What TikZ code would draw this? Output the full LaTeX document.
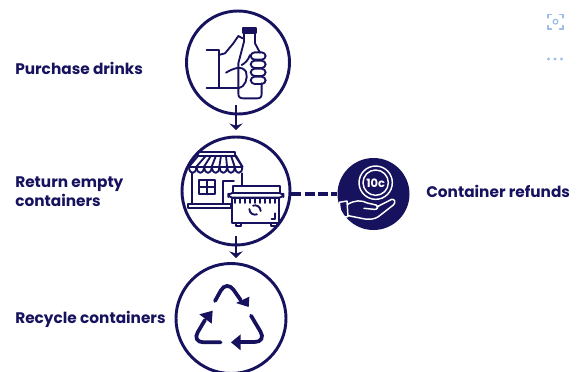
\documentclass[tikz,border=0pt]{standalone}
\usepackage{fontspec}
\setmainfont{Poppins}
\usetikzlibrary{arrows.meta}
\definecolor{navy}{HTML}{17125E}
\definecolor{uiblue}{HTML}{9DBEE6}
\begin{document}
\begin{tikzpicture}[
    x=0.75pt, y=-0.75pt,
    stage/.style={draw=navy, circle, line width=2.2pt, inner sep=0pt, minimum size=#1*1.5pt},
    caption/.style={anchor=west, align=left, text=navy, font=\fontsize{11.5}{14.4}\selectfont\bfseries, inner sep=0pt},
    flow/.style={-{Stealth[length=5pt,width=10pt]}, navy, line width=1.5pt},
    icon/.style={navy, line width=1.4pt, line join=round, line cap=round},
    whiteicon/.style={white, line width=1.1pt, line join=round, line cap=round},
    ui/.style={uiblue, line width=0.9pt, line cap=round}
]
    \clip (0,0) rectangle (577,371);
    \useasboundingbox (0,0) rectangle (577,371);

    \node[stage=51.5] (drinks) at (238,62.5) {};
    \node[stage=54] (return) at (236,191) {};
    \node[stage=55] (recycle) at (231,318.5) {};
    \node[circle, fill=navy, inner sep=0pt, minimum size=54pt] (refund) at (373.5,194) {};

    \node[caption] (purchase) at (15,68) {Purchase drinks};
    \node[caption] (empty) at (15,191.5) {Return empty\\containers};
    \node[caption] (recycling) at (15,319.5) {Recycle containers};
    \node[caption] (refunds) at (426,191.5) {Container refunds};

    \draw[flow, shorten <=-8pt, shorten >=4pt] (return.north |- drinks.south) -- (return.north);
    \draw[flow, shorten <=-8pt, shorten >=3pt] (return.south) -- (return.south |- recycle.north);
    \draw[navy, line width=2.8pt, dash pattern=on 7.5pt off 2.5pt] (return.east |- refund.west) -- (refund.west);

    \begin{scope}[shift={(170,0)}, x=0.25pt, y=-0.25pt]
        \draw[icon, fill=navy] (220,85) rectangle (258,100);
        \draw[icon] (222,100) -- (222,125) -- (205,190) -- (205,280) .. controls (205,292) and (210,295) .. (220,295) -- (262,295) .. controls (272,295) and (275,290) .. (275,280) -- (275,250);
        \draw[icon] (255,100) -- (255,130) -- (270,158);
        \draw[icon] (110,150) -- (146,150) -- (146,265) -- (110,265);
        \draw[icon] (146,165) -- (165,160) -- (190,130) -- (205,108) -- (218,115);
        \draw[icon] (146,265) -- (205,265);
        \draw[icon] (168,218) .. controls (190,205) and (215,195) .. (228,215) .. controls (235,235) and (225,262) .. (205,265);
        \draw[icon] (215,195) .. controls (225,190) and (235,180) .. (240,165);
        \foreach \rowy in {157,182,206,230} {
            \draw[icon, rounded corners=3pt] (242,\rowy) rectangle (287,\rowy+22);
        }
    \end{scope}

    \begin{scope}[shift={(170,125)}, x=0.25pt, y=-0.25pt]
        \draw[icon] (85,82) -- (195,82) -- (195,92) -- (85,92) -- cycle;
        \draw[icon] (85,92) -- (57,125);
        \draw[icon] (195,92) -- (217,125);
        \draw[icon] (57,125) -- (217,125);
        \foreach \tabx/\topx in {57/93,80/108,103/123,126/138,149/153,172/168,195/183} {
            \draw[icon] (\tabx,125) .. controls (\tabx,150) and (\tabx+22,150) .. (\tabx+22,125);
            \draw[icon] (\tabx+22,125) -- (\topx+15,92);
        }
        \draw[icon] (65,145) -- (65,237);
        \draw[icon] (215,145) -- (215,195);
        \draw[icon] (88,165) rectangle (135,208);
        \draw[icon] (111,165) -- (111,208);
        \draw[icon] (88,186) -- (135,186);
        \draw[icon] (158,237) -- (158,168) -- (192,168);
        \draw[icon] (55,237) rectangle (182,250);
        \draw[icon, fill=white] (190,205) -- (190,183) -- (330,183) -- (330,205) -- cycle;
        \draw[icon, fill=white] (185,218) rectangle (328,295);
        \draw[icon, fill=white, rounded corners=3pt] (175,204) rectangle (340,218);
        \draw[icon] (197,295) rectangle (212,303);
        \draw[icon] (303,295) rectangle (320,303);
        \foreach \tickx in {195,210,...,320} {
            \draw[icon] (\tickx,222) -- (\tickx,234);
        }
        \draw[icon] (238,252) arc (180:70:17);
        \draw[icon] (272,258) arc (0:-110:17);
        \draw[icon] (315,265) -- (315,282) -- (305,282);
    \end{scope}

    \begin{scope}[shift={(170,245)}, x=0.25pt, y=-0.25pt]
        \draw[navy, line width=2.8pt, line cap=round, rounded corners=9pt] (135,168) -- (170,105) -- (212,165);
        \fill[navy] (238,155) -- (236,186) -- (198,174) -- cycle;
        \draw[navy, line width=2.8pt, line cap=round, rounded corners=9pt] (243,212) -- (290,291) -- (205,291);
        \fill[navy] (212,268) -- (183,292) -- (212,316) -- cycle;
        \draw[navy, line width=2.8pt, line cap=round, rounded corners=9pt] (152,292) -- (65,292) -- (105,225);
        \fill[navy] (88,208) -- (128,197) -- (125,236) -- cycle;
    \end{scope}

    \begin{scope}[shift={(280,145)}, x=0.25pt, y=-0.25pt]
        \draw[whiteicon] (287,113) circle (50);
        \draw[whiteicon] (287,113) circle (38);
        \draw[whiteicon] (178,172) -- (201,168) -- (204,215) -- (183,217) -- cycle;
        \draw[whiteicon] (203,178) .. controls (225,165) and (245,165) .. (262,174) -- (288,180) .. controls (298,185) and (292,195) .. (282,193) -- (252,190);
        \draw[whiteicon] (290,186) -- (335,163) .. controls (345,162) and (348,172) .. (340,180) -- (295,215) .. controls (285,222) and (270,224) .. (255,222) -- (205,212);
    \end{scope}
    \node[text=white, inner sep=0pt, font=\fontsize{8.6}{9}\selectfont\bfseries] (coin) at (375.7,183) {10c};

    \begin{scope}[ui]
        \draw (548,18) -- (548,14.5) -- (551.5,14.5);
        \draw (559.5,14.5) -- (563,14.5) -- (563,18);
        \draw (563,25.5) -- (563,29) -- (559.5,29);
        \draw (551.5,29) -- (548,29) -- (548,25.5);
        \draw (555.5,21.7) circle (2.4);
        \fill (548.5,59) circle (1.6);
        \fill (555,59) circle (1.6);
        \fill (561.5,59) circle (1.6);
    \end{scope}
\end{tikzpicture}
\end{document}
